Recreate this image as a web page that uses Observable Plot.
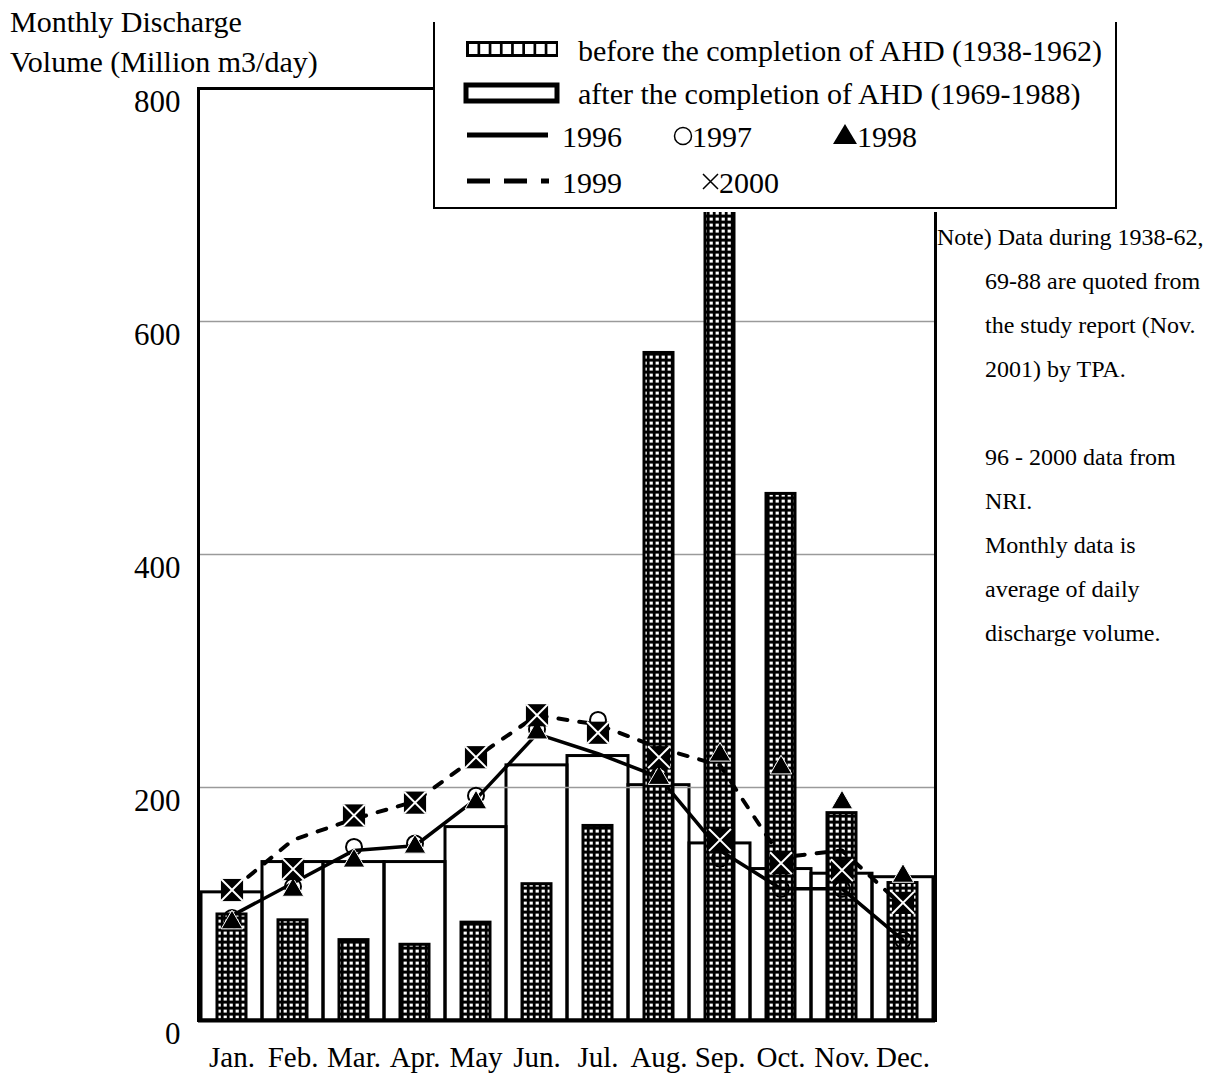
<!DOCTYPE html>
<html><head><meta charset="utf-8">
<script src="https://cdn.jsdelivr.net/npm/d3@7"></script>
<script src="https://cdn.jsdelivr.net/npm/@observablehq/plot@0.6"></script>
<style>
body{margin:0;background:#fff;}
#wrap{position:relative;width:1229px;height:1085px;font-family:"Liberation Serif","Times New Roman",serif;color:#000;overflow:hidden;}
#chart{position:absolute;left:0;top:0;}
.t{position:absolute;white-space:nowrap;}
#note{left:937px;top:215px;font-size:24px;line-height:44px;}
#note .i{padding-left:48px;}
#legend{position:absolute;left:433px;top:22px;}
</style></head><body>
<svg width="0" height="0" style="position:absolute">
  <defs>
    <pattern id="hatch" patternUnits="userSpaceOnUse" width="6" height="6">
      <rect width="6" height="6" fill="#000"></rect>
      <rect x="1.6" y="1.6" width="3.2" height="3.0" fill="#fff"></rect>
    </pattern>
  </defs>
</svg>
<div id="wrap">
  <div id="chart"></div>
  <div class="t" style="left:10px;top:2px;font-size:30px;line-height:40px">Monthly Discharge<br>Volume (Million m3/day)</div>
  <div class="t" id="note">
    <div>Note) Data during 1938-62,</div>
    <div class="i">69-88 are quoted from</div>
    <div class="i">the study report (Nov.</div>
    <div class="i">2001) by TPA.</div>
    <div class="i">&nbsp;</div>
    <div class="i">96 - 2000 data from</div>
    <div class="i">NRI.</div>
    <div class="i">Monthly data is</div>
    <div class="i">average of daily</div>
    <div class="i">discharge volume.</div>
  </div>
  <div id="legend"></div>
</div>
<script>
const months = ["Jan.","Feb.","Mar.","Apr.","May","Jun.","Jul.","Aug.","Sep.","Oct.","Nov.","Dec."];
const beforeAHD = [91, 86, 69, 65, 84, 117, 167, 573, 780, 452, 178, 118];   // 1938-1962
const afterAHD  = [110, 136, 136, 136, 166, 219, 227, 202, 152, 130, 126, 123]; // 1969-1988
const v1996 = [90, 118, 146, 150, 190, 246, 229, 209, 146, 113, 113, 69];
const v1997 = [88, 115, 149, 152, 193, 250, 258, 210, 139, 113, 113, 69];
const v1998 = [84, 112, 137, 149, 187, 247, 245, 208, 228, 217, 187, 124];
const v1999 = [112, 155, 173, 188, 226, 262, 254, 234, 219, 140, 146, 98];
const v2000 = [112, 130, 176, 187, 226, 262, 247, 226, 155, 135, 129, 101];
const yTicks = [0, 200, 400, 600, 800];
const gridTicks = [200, 400, 600];

const rows = vals => months.map((m, i) => ({month: m, value: vals[i]}));

const chart = Plot.plot({
  width: 1229, height: 1085,
  marginLeft: 198, marginRight: 294, marginTop: 88, marginBottom: 65,
  x: {domain: months, padding: 0, axis: null},
  y: {domain: [0, 800], axis: null},
  style: {fontFamily: "Liberation Serif, Times New Roman, serif", fontSize: "30px", background: "transparent", color: "black"},
  marks: [
    Plot.barY(rows(afterAHD), {x: "month", y: "value", fill: "none", stroke: "black", strokeWidth: 3}),
    Plot.ruleY(gridTicks, {stroke: "#9a9a9a", strokeWidth: 1.5}),
    Plot.barY(rows(beforeAHD), {x: "month", y: "value", fill: "url(#hatch)", stroke: "black", strokeWidth: 3, insetLeft: 16, insetRight: 16}),
    Plot.lineY(rows(v1996), {x: "month", y: "value", stroke: "black", strokeWidth: 3.5}),
    Plot.dot(rows(v1997), {x: "month", y: "value", r: 8, stroke: "black", strokeWidth: 2, fill: "none"}),
    Plot.dot(rows(v1998), {x: "month", y: "value", symbol: "triangle", r: 8, fill: "black", stroke: "white", strokeWidth: 1}),
    Plot.lineY(rows(v1999), {x: "month", y: "value", stroke: "black", strokeWidth: 4, strokeDasharray: "9,12"}),
    Plot.dot(rows(v2000), {x: "month", y: "value", symbol: "square", r: 12.5, fill: "black"}),
    Plot.dot(rows(v2000), {x: "month", y: "value", symbol: "times", r: 10, stroke: "white", strokeWidth: 2}),
    Plot.frame({stroke: "black", strokeWidth: 3}),
    Plot.ruleY([0], {stroke: "black", strokeWidth: 4}),
    Plot.text(yTicks, {y: d => d, text: d => String(d), frameAnchor: "left", textAnchor: "end", dx: -18, dy: 14, fontSize: 31}),
    Plot.text(months, {x: d => d, text: d => d, frameAnchor: "bottom", dy: 46, fontSize: 29})
  ]
});
document.getElementById("chart").appendChild(chart);

// Legend
const L = d3.select("#legend").append("svg").attr("width", 686).attr("height", 190)
  .style("font-family", "Liberation Serif, Times New Roman, serif").style("font-size", "30px");
L.append("rect").attr("x", 0).attr("y", 0).attr("width", 686).attr("height", 190).attr("fill", "white");
L.append("path").attr("d", "M1,0V186H683V0").attr("fill", "none").attr("stroke", "black").attr("stroke-width", 2);
// row 1: hatched swatch
L.append("rect").attr("x", 33).attr("y", 19).attr("width", 92).attr("height", 16).attr("fill", "black");
for (let i = 0; i < 8; i++) {
  L.append("rect").attr("x", 36 + i * 11.2).attr("y", 22).attr("width", 8.5).attr("height", 10).attr("fill", "white");
}
L.append("text").attr("x", 145).attr("y", 28).attr("dominant-baseline", "central").text("before the completion of AHD (1938-1962)");
// row 2
L.append("rect").attr("x", 33).attr("y", 63).attr("width", 91).attr("height", 16).attr("fill", "white").attr("stroke", "black").attr("stroke-width", 5);
L.append("text").attr("x", 145).attr("y", 71).attr("dominant-baseline", "central").text("after the completion of AHD (1969-1988)");
// row 3
L.append("line").attr("x1", 34).attr("x2", 115).attr("y1", 113).attr("y2", 113).attr("stroke", "black").attr("stroke-width", 5);
L.append("text").attr("x", 129).attr("y", 114).attr("dominant-baseline", "central").text("1996");
L.append("circle").attr("cx", 250).attr("cy", 114).attr("r", 8.5).attr("fill", "none").attr("stroke", "black").attr("stroke-width", 1.5);
L.append("text").attr("x", 259).attr("y", 114).attr("dominant-baseline", "central").text("1997");
L.append("path").attr("d", "M412,102L424,122H400Z").attr("fill", "black");
L.append("text").attr("x", 424).attr("y", 114).attr("dominant-baseline", "central").text("1998");
// row 4
L.append("line").attr("x1", 34).attr("x2", 116).attr("y1", 159).attr("y2", 159).attr("stroke", "black").attr("stroke-width", 5).attr("stroke-dasharray", "23,14");
L.append("text").attr("x", 129).attr("y", 160).attr("dominant-baseline", "central").text("1999");
L.append("path").attr("d", "M270,152L285,167M285,152L270,167").attr("stroke", "black").attr("stroke-width", 1.5);
L.append("text").attr("x", 286).attr("y", 160).attr("dominant-baseline", "central").text("2000");
</script>
</body></html>
